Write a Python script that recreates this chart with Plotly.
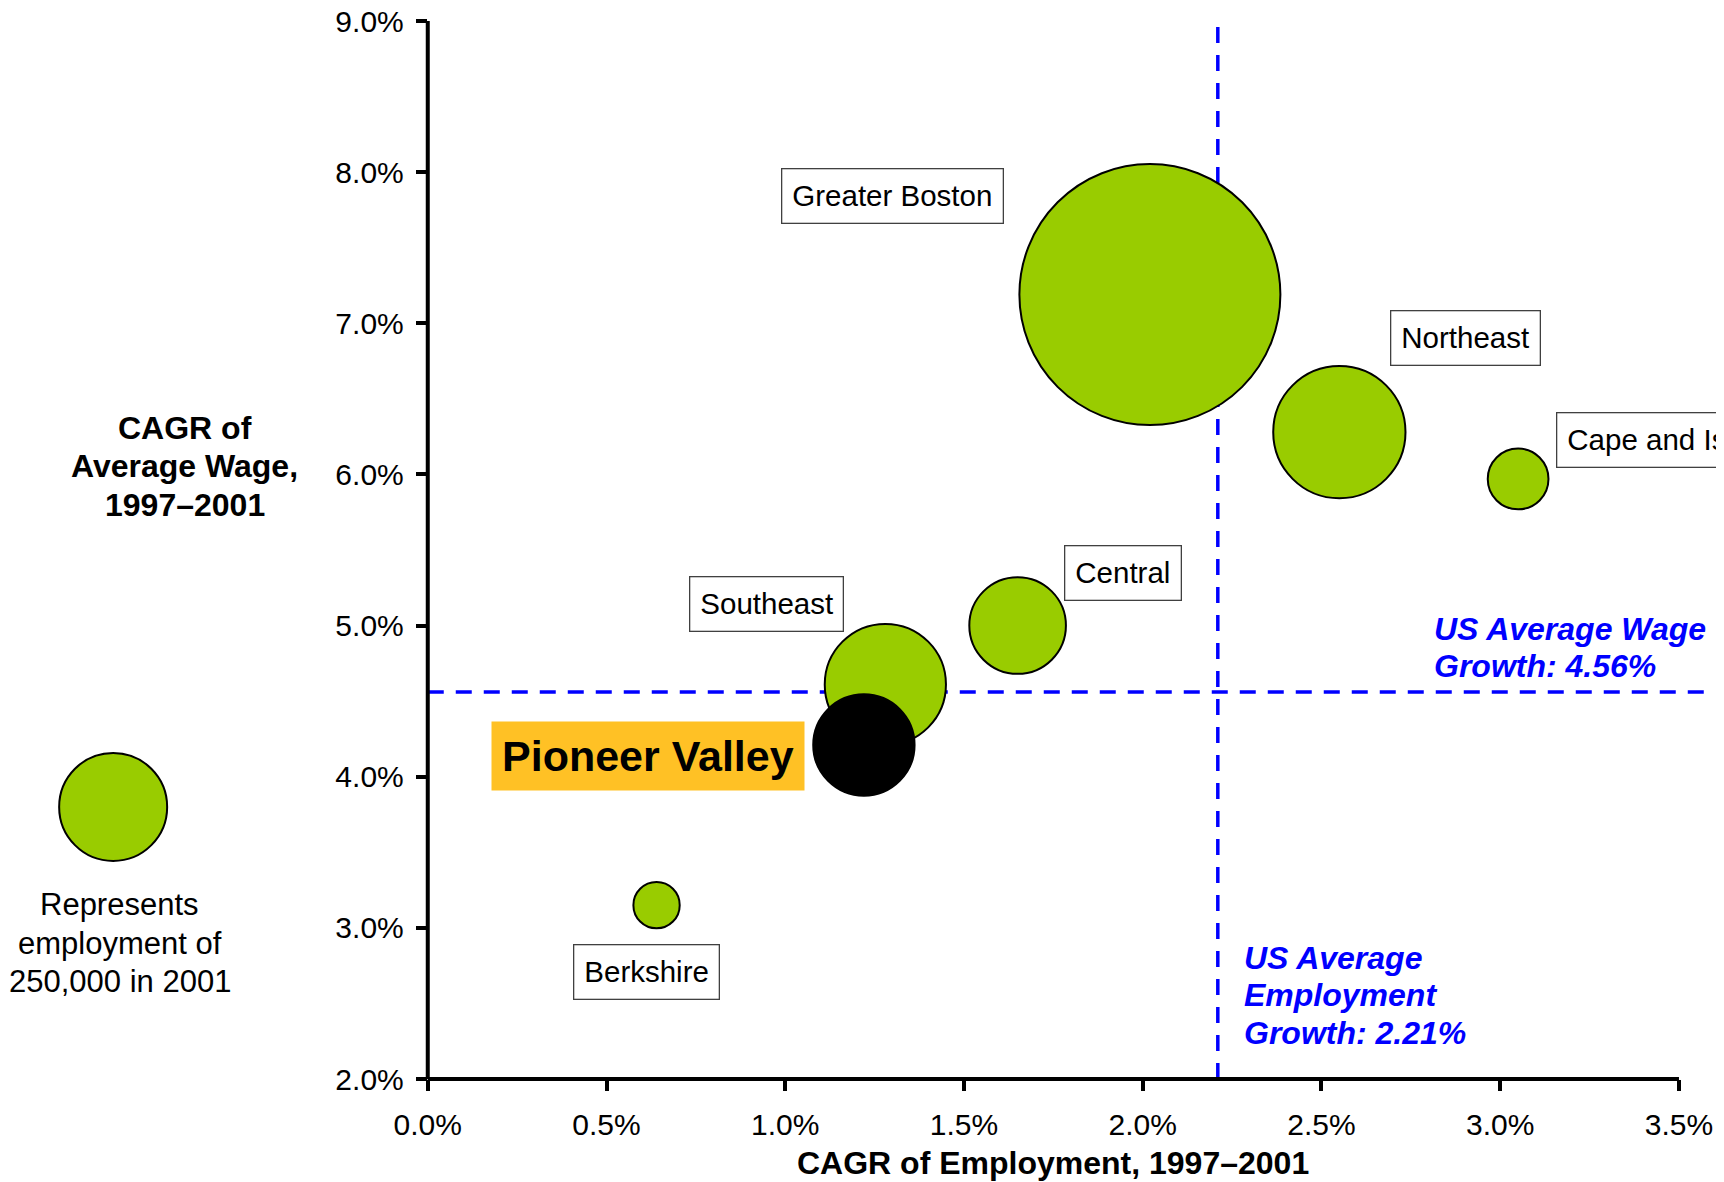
import plotly.graph_objects as go

# ---------------- data ----------------
regions = ["Greater Boston", "Northeast", "Cape and Islands", "Central",
           "Southeast", "Pioneer Valley", "Berkshire"]
emp_cagr = [2.02, 2.55, 3.05, 1.65, 1.28, 1.22, 0.64]      # % CAGR of employment 1997-2001
wage_cagr = [7.19, 6.28, 5.97, 5.00, 4.61, 4.21, 3.15]     # % CAGR of average wage 1997-2001
employment_2001 = [1460000, 375000, 79000, 200000, 315000, 220000, 46000]

US_EMP_GROWTH = 2.21
US_WAGE_GROWTH = 4.56
LEGEND_EMPLOYMENT = 250000

x_ticks = [0.0, 0.5, 1.0, 1.5, 2.0, 2.5, 3.0, 3.5]
y_ticks = [2.0, 3.0, 4.0, 5.0, 6.0, 7.0, 8.0, 9.0]
x_ticktext = [f"{v:.1f}%" for v in x_ticks]
y_ticktext = [f"{v:.1f}%" for v in y_ticks]

# ---------------- styling ----------------
FONT = "Liberation Sans, Arial, sans-serif"
GREEN = "#99CC00"
GOLD = "#FFC125"
BLUE = "#0000FF"
XMAX = 3.57
LEGEND_DIAM_PX = 108
sizeref = 2.0 * LEGEND_EMPLOYMENT / LEGEND_DIAM_PX ** 2
X_DOMAIN0 = 0.2475

fig = go.Figure()

colors = ["black" if r == "Pioneer Valley" else GREEN for r in regions]
fig.add_trace(go.Scatter(
    x=emp_cagr, y=wage_cagr, mode="markers",
    text=regions, hoverinfo="text",
    marker=dict(size=employment_2001, sizemode="area", sizeref=sizeref,
                color=colors, opacity=1,
                line=dict(color="black", width=2)),
    cliponaxis=False, showlegend=False,
))

# legend bubble (size key) on a hidden helper axis in the left margin
fig.add_trace(go.Scatter(
    x=[0.310], y=[3.80], xaxis="x2", yaxis="y", mode="markers",
    marker=dict(size=[LEGEND_EMPLOYMENT], sizemode="area", sizeref=sizeref,
                color=GREEN, opacity=1, line=dict(color="black", width=2)),
    cliponaxis=False, showlegend=False, hoverinfo="skip",
))

tickfont = dict(family=FONT, size=30, color="black")
fig.update_layout(
    width=1716, height=1174,
    margin=dict(l=0, r=20, t=13, b=103, autoexpand=False),
    paper_bgcolor="white", plot_bgcolor="white",
    font=dict(family=FONT, color="black"),
    xaxis=dict(domain=[X_DOMAIN0, 1], range=[0, XMAX], tickvals=x_ticks,
               ticktext=x_ticktext, ticks="outside", ticklen=11,
               tickwidth=4, tickcolor="black", showgrid=False, zeroline=False,
               showline=False, tickfont=tickfont, ticklabelstandoff=8,
               ticklabeloverflow="allow", automargin=False),
    yaxis=dict(range=[2, 9], tickvals=y_ticks, ticktext=y_ticktext,
               ticks="outside", ticklen=11, tickwidth=4, tickcolor="black",
               showgrid=False, zeroline=False, showline=False,
               tickfont=tickfont, ticklabelstandoff=6,
               ticklabeloverflow="allow", automargin=False),
    xaxis2=dict(domain=[0, 0.2], range=[0, 1], visible=False, anchor="y",
                automargin=False),
)

# axis lines
fig.add_shape(type="line", xref="x domain", yref="y domain",
              x0=0, x1=x_ticks[-1] / XMAX, y0=0, y1=0,
              line=dict(color="black", width=4))
fig.add_shape(type="line", xref="x domain", yref="y domain",
              x0=0, x1=0, y0=0, y1=1,
              line=dict(color="black", width=4))

# US average reference lines
fig.add_shape(type="line", xref="x", yref="y", x0=US_EMP_GROWTH, x1=US_EMP_GROWTH,
              y0=2, y1=9, layer="below",
              line=dict(color=BLUE, width=3.5, dash="16px,12px"))
fig.add_shape(type="line", xref="x", yref="y", x0=0, x1=XMAX,
              y0=US_WAGE_GROWTH, y1=US_WAGE_GROWTH, layer="below",
              line=dict(color=BLUE, width=3.5, dash="16px,12px"))

# region labels (boxed)
box_labels = [
    ("Greater Boston", 1.30, 7.84, "center"),
    ("Northeast", 2.903, 6.90, "center"),
    ("Cape and Islands", 3.155, 6.23, "left"),
    ("Central", 1.944, 5.35, "center"),
    ("Southeast", 0.947, 5.14, "center"),
    ("Berkshire", 0.613, 2.71, "center"),
]
for txt, lx, ly, anc in box_labels:
    fig.add_annotation(x=lx, y=ly, xref="x", yref="y", text=txt, showarrow=False,
                       xanchor=anc, yanchor="middle",
                       font=dict(family=FONT, size=29.5, color="black"),
                       bgcolor="white", bordercolor="#404040", borderwidth=1.3,
                       borderpad=10)

fig.add_annotation(x=0.616, y=4.14, xref="x", yref="y", text="<b>Pioneer Valley</b>",
                   showarrow=False, xanchor="center", yanchor="middle",
                   font=dict(family=FONT, size=43, color="black"),
                   bgcolor=GOLD, borderpad=10)


def add_lines(lines, x, y, xref, yref, pitch, font, xanchor="center"):
    """Place a multi-line text block one line per annotation, with a given line pitch."""
    n = len(lines)
    for i, line in enumerate(lines):
        fig.add_annotation(x=x, y=y, xref=xref, yref=yref, text=line,
                           showarrow=False, xanchor=xanchor, yanchor="middle",
                           yshift=(n - 1) / 2 * pitch - i * pitch, font=font)


blue_font = dict(family=FONT, size=32, color=BLUE)
add_lines(["<b><i>US Average Wage</i></b>", "<b><i>Growth: 4.56%</i></b>"],
          2.808, 4.853, "x", "y", 37.4, blue_font, xanchor="left")
add_lines(["<b><i>US Average</i></b>", "<b><i>Employment</i></b>",
           "<b><i>Growth: 2.21%</i></b>"],
          2.279, 2.553, "x", "y", 37.4, blue_font, xanchor="left")

# axis titles
fig.add_annotation(x=1.75, y=-0.0798, xref="x", yref="paper",
                   text="<b>CAGR of Employment, 1997–2001</b>", showarrow=False,
                   xanchor="center", yanchor="middle",
                   font=dict(family=FONT, size=32, color="black"))
add_lines(["<b>CAGR of</b>", "<b>Average Wage,</b>", "<b>1997–2001</b>"],
          0.1042, 6.054, "paper", "y", 38.5,
          dict(family=FONT, size=32, color="black"))

# legend text
add_lines(["Represents", "employment of", "250,000 in 2001"],
          0.330, 2.898, "x2", "y", 38.5,
          dict(family=FONT, size=31, color="black"))

fig.write_html("out.html")
